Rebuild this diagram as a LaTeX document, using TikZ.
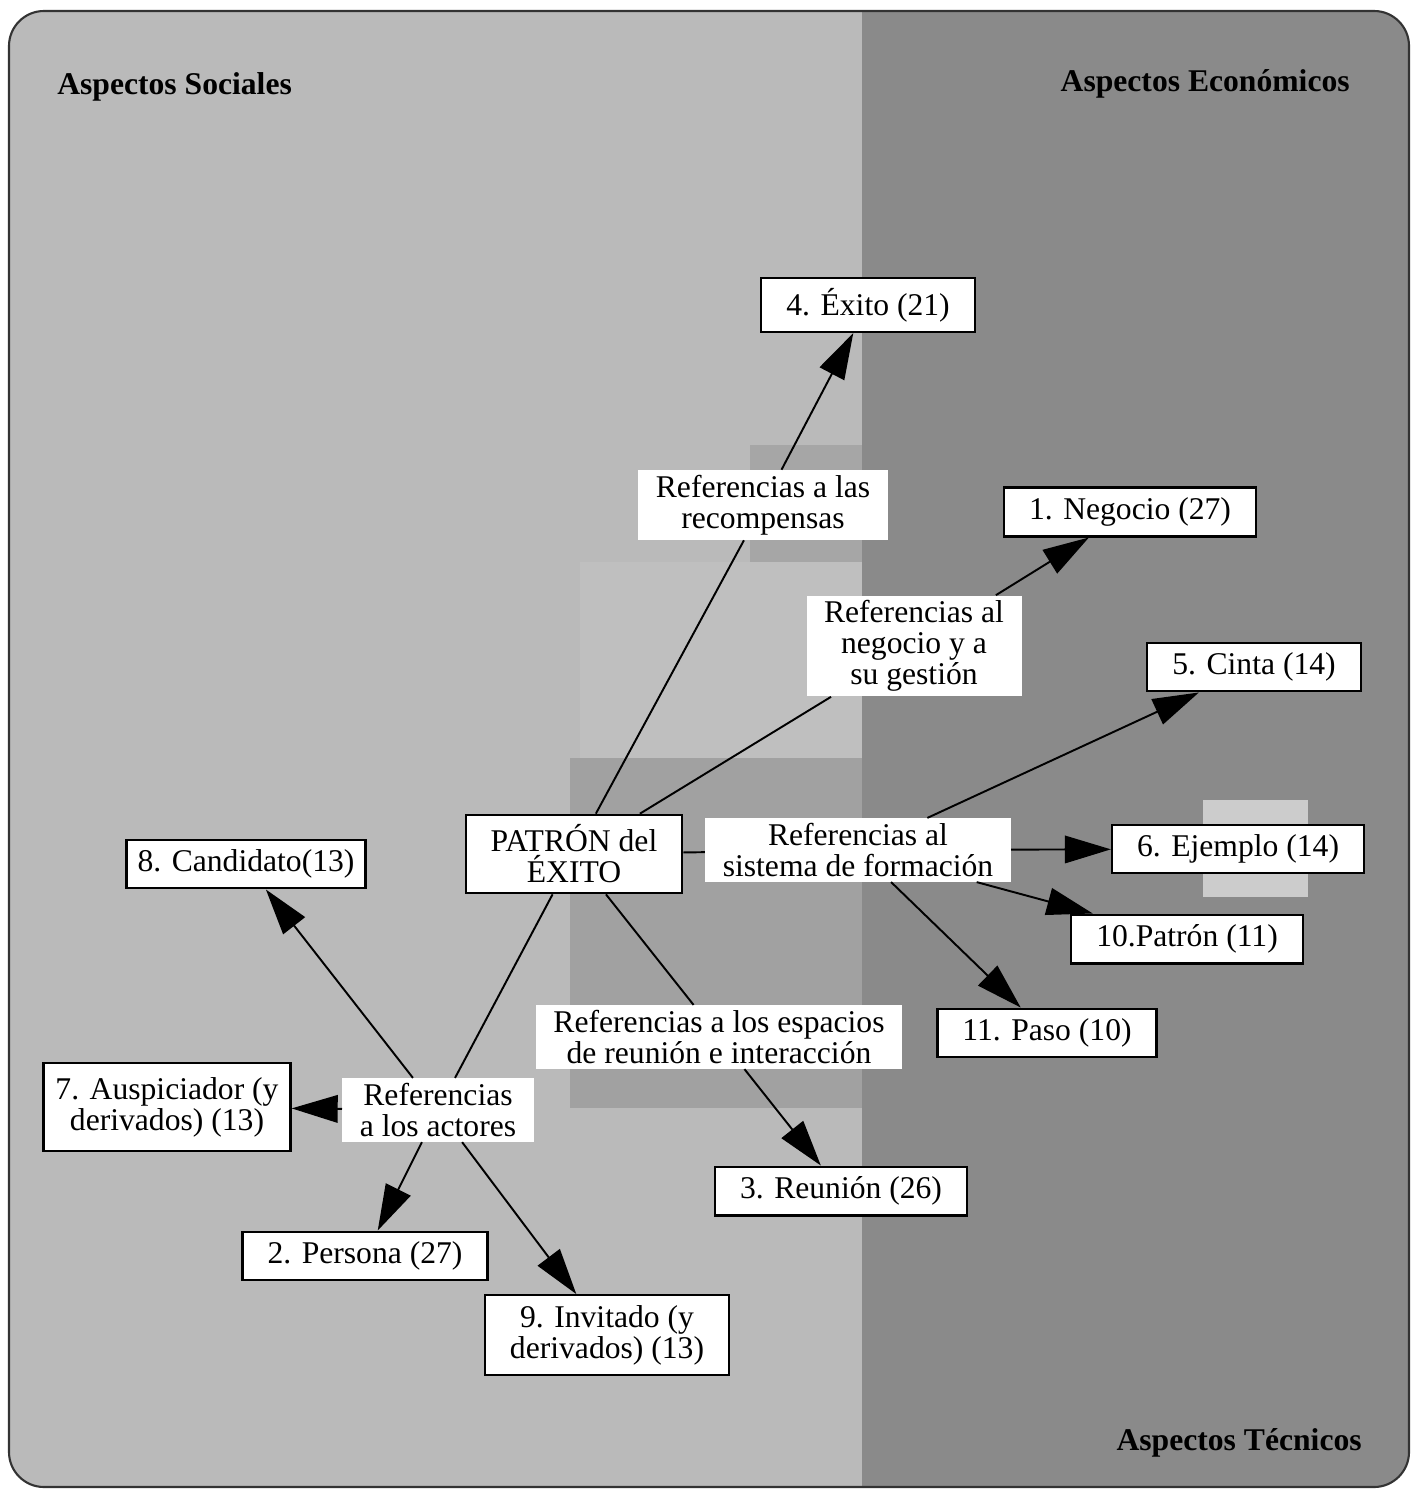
\documentclass[tikz,border=0pt]{standalone}
\usepackage{fontspec}
\setmainfont{Liberation Serif}
\usetikzlibrary{arrows.meta}

\begin{document}
\begin{tikzpicture}[x=0.02cm,y=-0.02cm,
    font=\fontsize{18}{17.6}\selectfont,
    box/.style={draw,line width=1.3pt,fill=white,inner xsep=0.5cm,inner ysep=0.2cm,align=center},
    lbl/.style={fill=white,inner xsep=0.35cm,inner ysep=0.1cm,align=center},
    head/.style={inner sep=0pt,font=\fontsize{18}{18}\selectfont\bfseries},
    link/.style={line width=1.1pt},
    arr/.style={link,-{Triangle[length=0.92cm,width=0.55cm]}}]
    \useasboundingbox (0,0) rectangle (1416,1490);
    \begin{scope}
        \clip[rounded corners=0.7cm] (9,11) rectangle (1409,1487);
        \fill[black!27] (0,0) rectangle (862,1490);
        \fill[black!46] (862,0) rectangle (1416,1490);
        \fill[black!35] (750,445) rectangle (862,562);
        \fill[black!25] (580,562) rectangle (862,758);
        \fill[black!37] (570,758) rectangle (862,1108);
        \fill[black!20] (1203,800) rectangle (1308,897);
    \end{scope}
    \draw[black!80,line width=1.2pt,rounded corners=0.7cm] (9,11) rectangle (1409,1487);

    \node[head,anchor=west] (social) at (57,87) {Aspectos Sociales};
    \node[head,anchor=east] (economico) at (1350,84) {Aspectos Económicos};
    \node[head,anchor=east] (tecnico) at (1362,1443) {Aspectos Técnicos};

    \node[box] (patron) at (574,854) {PATRÓN del\\ÉXITO};
    \node[box] (exito) at (868,305) {4. Éxito (21)};
    \node[box] (negocio) at (1130,512) {1. Negocio (27)};
    \node[box] (cinta) at (1254,667) {5. Cinta (14)};
    \node[box] (ejemplo) at (1238,849) {6. Ejemplo (14)};
    \node[box] (patron10) at (1187,939) {10.Patrón (11)};
    \node[box] (paso) at (1047,1033) {11. Paso (10)};
    \node[box] (reunion) at (841,1191) {3. Reunión (26)};
    \node[box] (invitado) at (607,1335) {9. Invitado (y\\derivados) (13)};
    \node[box] (persona) at (365,1256) {2. Persona (27)};
    \node[box,inner xsep=0.24cm,minimum height=1.76cm] (auspiciador) at (167,1107) {7. Auspiciador (y\\derivados) (13)};
    \node[box,inner xsep=0.22cm] (candidato) at (246,864) {8. Candidato(13)};

    \node[lbl] (recomp) at (763,505) {Referencias a las\\recompensas};
    \node[lbl] (gestion) at (914,646) {Referencias al\\negocio y a\\su gestión};
    \node[lbl] (formacion) at (858,850) {Referencias al\\sistema de formación};
    \node[lbl] (espacios) at (719,1037) {Referencias a los espacios\\de reunión e interacción};
    \node[lbl] (actores) at (438,1110) {Referencias\\a los actores};

    \draw[link] (patron) -- (recomp);
    \draw[arr] (recomp) -- (exito);
    \draw[link] (patron) -- (gestion);
    \draw[arr] (gestion) -- (negocio);
    \draw[link] (patron) -- (formacion);
    \draw[arr] (formacion) -- (cinta);
    \draw[arr] (formacion) -- (ejemplo);
    \draw[arr] (formacion) -- (patron10);
    \draw[arr] (formacion) -- (paso);
    \draw[link] (patron) -- (espacios);
    \draw[arr] (espacios) -- (reunion);
    \draw[link] (patron) -- (actores);
    \draw[arr] (actores) -- (candidato);
    \draw[arr] (actores) -- (auspiciador);
    \draw[arr] (actores) -- (persona);
    \draw[arr] (actores) -- (invitado);
\end{tikzpicture}
\end{document}
